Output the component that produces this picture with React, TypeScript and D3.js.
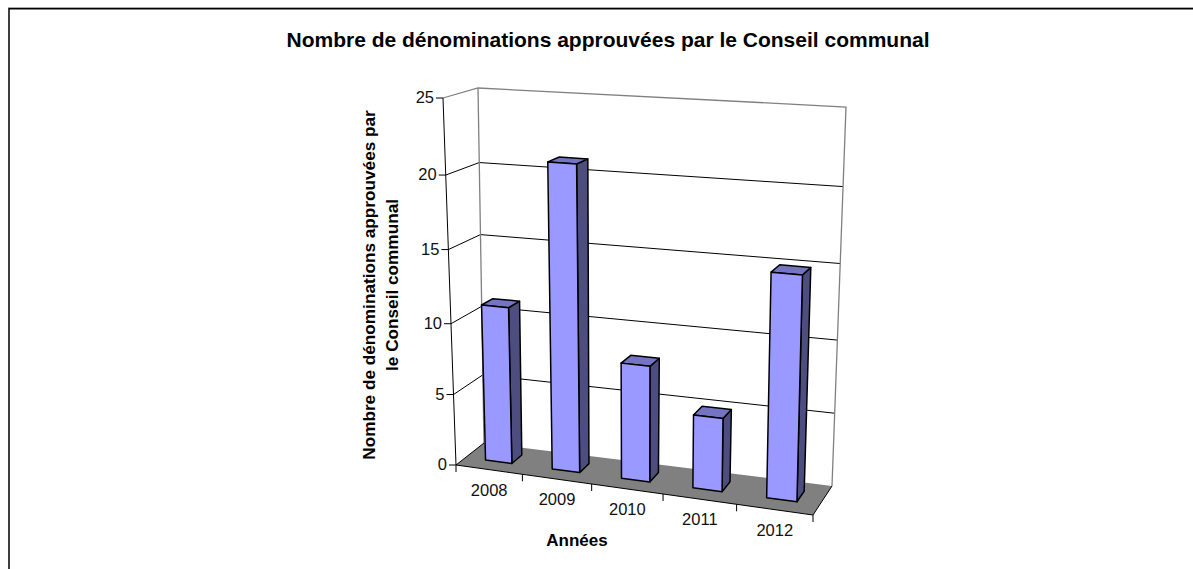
import React from "react";
import * as d3 from "d3";

const categories = ["2008", "2009", "2010", "2011", "2012"];
const values = [11, 21, 8, 5, 15];
const valueTicks = [0, 5, 10, 15, 20, 25];
const titleText = "Nombre de dénominations approuvées par le Conseil communal";
const yTitleLines = ["Nombre de dénominations approuvées par", "le Conseil communal"];
const xTitleText = "Années";

type P = [number, number];
// perspective calibration of the chart box: front-left, front-right, back-left, back-right at floor and top
const cube = {
  f0: [456, 465] as P, f1: [813, 515] as P, b0: [484, 443] as P, b1: [832, 486] as P,
  F0: [443, 98] as P, F1: [822, 122] as P, B0: [478, 88] as P, B1: [846, 107] as P,
};
const uScale = d3.scaleLinear().domain([0, 1, 2, 3, 4, 5]).range([0, 0.186, 0.38, 0.58, 0.786, 1]);
const vScale = d3.scaleLinear().domain(valueTicks).range([0, 0.192, 0.385, 0.587, 0.79, 1]);

const mix = (a: P, b: P, t: number): P => [a[0] + (b[0] - a[0]) * t, a[1] + (b[1] - a[1]) * t];
function project(cat: number, val: number, w: number): P {
  const u = uScale(cat);
  const v = vScale(val);
  const bottom = mix(mix(cube.f0, cube.f1, u), mix(cube.b0, cube.b1, u), w);
  const top = mix(mix(cube.F0, cube.F1, u), mix(cube.B0, cube.B1, u), w);
  return mix(bottom, top, v);
}
const line = d3.line<P>();
const closed = (pts: P[]) => line(pts) + "Z";

const FONT = "Liberation Sans, Arial, sans-serif";
const W0 = 0.35, W1 = 0.72;

export default function App() {
  return (
    <svg width={1193} height={569} style={{ position: "absolute", left: 0, top: 0, background: "#fff" }} fontFamily={FONT}>
      <path d="M8,7.5H1193" fill="none" stroke="#aaa" strokeWidth={1} />
      <path d="M9,569V8.7H1193" fill="none" stroke="#000" strokeWidth={1.5} />
      <text x={608} y={47} textAnchor="middle" fontSize={21} fontWeight="bold">{titleText}</text>

      {/* floor */}
      <path d={closed([project(0, 0, 0), project(5, 0, 0), project(5, 0, 1), project(0, 0, 1)])} fill="#808080" />
      {/* gridlines */}
      {valueTicks.slice(1, 5).map((t) => (
        <path key={t} d={line([project(0, t, 0), project(0, t, 1), project(5, t, 1)])!} fill="none" stroke="#000" strokeWidth={1} />
      ))}
      {/* wall frame */}
      <path d={line([project(0, 25, 0), project(0, 25, 1), project(5, 25, 1), project(5, 0, 1)])!} fill="none" stroke="#808080" strokeWidth={1.3} />
      <path d={line([project(0, 25, 1), project(0, 0, 1)])!} fill="none" stroke="#808080" strokeWidth={1.3} />

      {/* axes */}
      <path d={line([project(0, 25, 0), project(0, 0, 0)])!} fill="none" stroke="#000" strokeWidth={1} />
      <path d={line([project(0, 0, 1), project(0, 0, 0), project(5, 0, 0), project(5, 0, 1)])!} fill="none" stroke="#000" strokeWidth={1} />
      {valueTicks.map((t) => {
        const p = project(0, t, 0);
        return (
          <g key={t}>
            <line x1={p[0] - 7} x2={p[0]} y1={p[1]} y2={p[1]} stroke="#000" />
            <text x={p[0] - 9} y={p[1] + 5} textAnchor="end" fontSize={16.5} fill="#111">{t}</text>
          </g>
        );
      })}
      {d3.range(0, 6).map((i) => {
        const p = project(i, 0, 0);
        return <line key={i} x1={p[0]} x2={p[0]} y1={p[1]} y2={p[1] + 7} stroke="#000" />;
      })}
      {categories.map((c, i) => {
        const p = project(i + 0.5, 0, 0);
        return <text key={c} x={p[0]} y={p[1] + 26} textAnchor="middle" fontSize={16.5} fill="#111">{c}</text>;
      })}

      {/* bars */}
      {values.map((val, i) => {
        const a = i + 0.3, b = i + 0.7;
        const fa0 = project(a, 0, W0), fb0 = project(b, 0, W0), fa1 = project(a, val, W0), fb1 = project(b, val, W0);
        const bb0 = project(b, 0, W1), bb1 = project(b, val, W1), ba1 = project(a, val, W1);
        return (
          <g key={categories[i]} stroke="#000" strokeWidth={1.5} strokeLinejoin="round">
            <path d={closed([fb0, bb0, bb1, fb1])} fill="#4D4D80" />
            <path d={closed([fa1, fb1, bb1, ba1])} fill="#7474C2" />
            <path d={closed([fa0, fb0, fb1, fa1])} fill="#9999FF" />
          </g>
        );
      })}

      <text transform="translate(375,285) rotate(-90)" textAnchor="middle" fontSize={17.2} fontWeight="bold">
        <tspan x={0} y={0}>{yTitleLines[0]}</tspan>
        <tspan x={0} y={23}>{yTitleLines[1]}</tspan>
      </text>
      <text x={577} y={546} textAnchor="middle" fontSize={17} fontWeight="bold">{xTitleText}</text>
    </svg>
  );
}
